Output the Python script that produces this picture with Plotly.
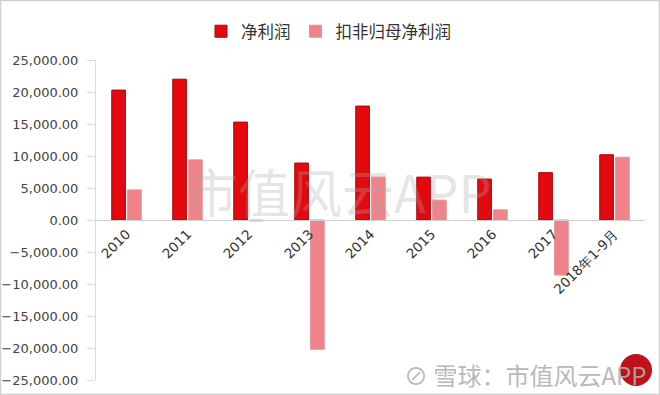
import plotly.graph_objects as go

categories = ["2010", "2011", "2012", "2013", "2014", "2015", "2016", "2017", "2018年1-9月"]
net_profit = [20300, 22000, 15300, 8900, 17800, 6700, 6400, 7400, 10200]
deducted_profit = [4700, 9400, -150, -20200, 6700, 3100, 1600, -8600, 9800]
y_ticks = [25000, 20000, 15000, 10000, 5000, 0, -5000, -10000, -15000, -20000, -25000]

W, H = 660, 395
L, R, T, B = 96, 15, 60, 15
pw, ph = W - L - R, H - T - B

def px(x):
    return (x - L) / pw

def py(y):
    return (H - B - y) / ph

fig = go.Figure()
fig.add_trace(go.Bar(
    x=categories, y=net_profit, name="净利润",
    marker=dict(color="#e4090f", line=dict(color="#a8060a", width=1)),
))
fig.add_trace(go.Bar(
    x=categories, y=deducted_profit, name="扣非归母净利润",
    marker=dict(color="#f08389", line=dict(color="#e0959a", width=1)),
))

fig.update_layout(
    width=W, height=H,
    margin=dict(l=L, r=R, t=T, b=B, autoexpand=False),
    paper_bgcolor="white", plot_bgcolor="white",
    barmode="group", bargap=0.48, bargroupgap=0.14,
    font=dict(family="DejaVu Sans", color="#444"),
    showlegend=True,
    legend=dict(orientation="h", xref="container", yref="container",
                x=201 / W, y=1 - 14 / H, xanchor="left", yanchor="top",
                font=dict(family="Noto Sans CJK SC", size=16.5, color="#333"),
                traceorder="normal"),
    xaxis=dict(
        anchor="free", position=0.5, showline=True, linecolor="#cfcfcf", linewidth=1,
        ticks="", tickangle=-45, tickfont=dict(family="DejaVu Sans", size=13.5, color="#333"),
        showgrid=False, zeroline=False, automargin=False,
    ),
    yaxis=dict(
        range=[-25000, 25000], tickvals=y_ticks, tickformat=",.2f",
        showline=True, linecolor="#dcdcdc", linewidth=1, ticks="outside", ticklen=8,
        ticklabelstandoff=6,
        tickcolor="#dcdcdc", tickfont=dict(family="DejaVu Sans", size=13, color="#444"),
        showgrid=False, zeroline=False, automargin=False,
    ),
)

# watermark
fig.add_annotation(xref="paper", yref="paper", x=px(338), y=py(190), xanchor="center", yanchor="middle",
                   text="市值风云APP", showarrow=False,
                   font=dict(family="Noto Sans CJK SC", size=52, color="rgba(170,170,170,0.3)"))
fig.add_annotation(xref="paper", yref="paper", x=px(525), y=py(374), xanchor="center", yanchor="middle",
                   text="⊘ 雪球：市值风云APP", showarrow=False,
                   font=dict(family="Noto Sans CJK SC", size=24, color="rgba(175,175,175,0.9)"))
fig.add_shape(type="circle", xref="paper", yref="paper", x0=px(620), x1=px(652), y0=py(386), y1=py(354),
              fillcolor="#c0121a", line=dict(width=0), layer="below")
# frame
fig.add_shape(type="rect", xref="paper", yref="paper", x0=px(0.5), x1=px(W - 0.5), y0=py(H - 0.5), y1=py(0.5),
              line=dict(color="#d0d0d0", width=1.5))

fig.write_html("out.html", config={"displayModeBar": False},
               post_script="document.body.style.margin='0';document.body.style.overflow='hidden';")
